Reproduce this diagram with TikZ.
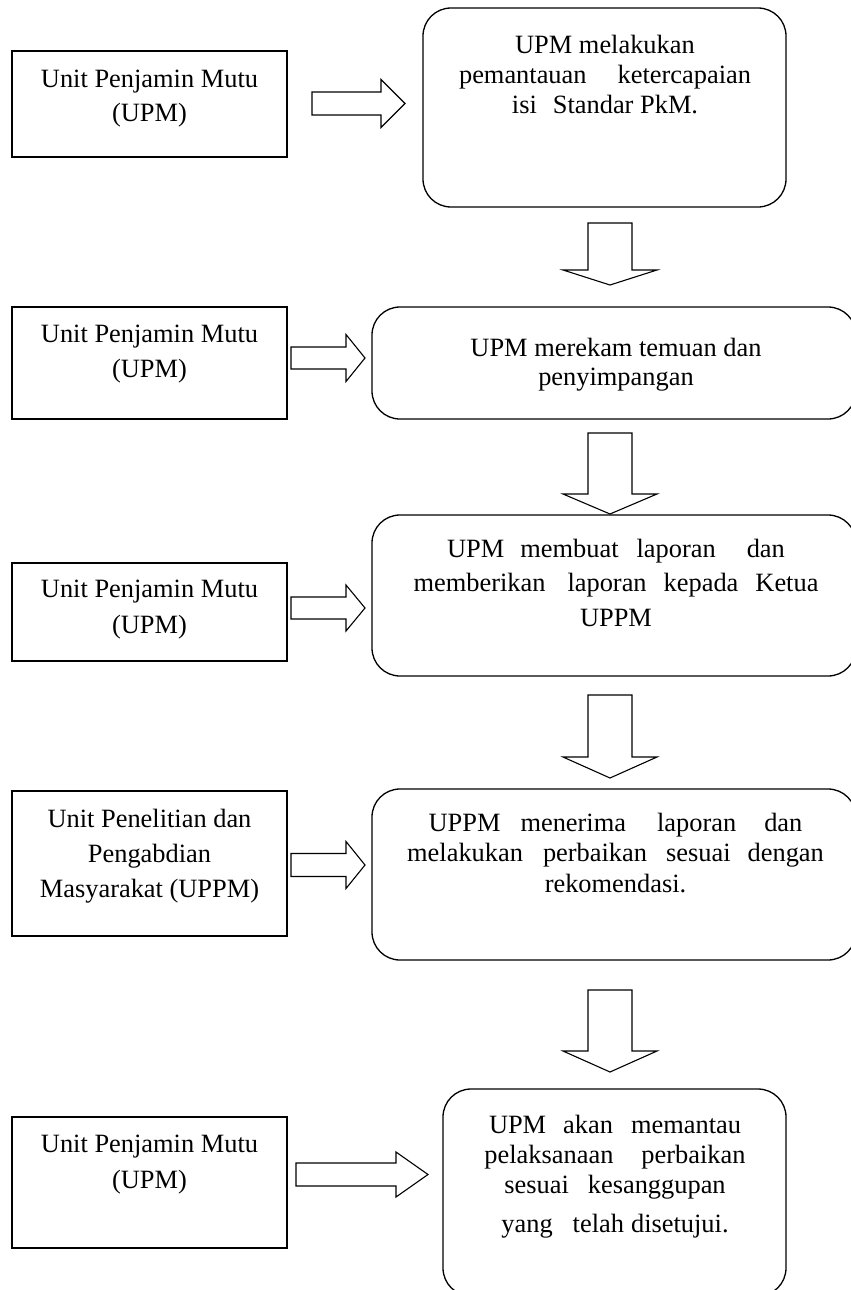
\documentclass[tikz,border=0pt]{standalone}
\usepackage{fontspec}
\setmainfont{Liberation Serif}
\newcommand\blk[2]{{\fontsize{26.4}{#1}\selectfont\begin{tabular}[t]{@{}c@{}}#2\end{tabular}}}
\newcommand\gp[1]{\hspace{#1pt}}
\tikzset{
  sqbox/.style={draw, line width=1.4pt, rectangle, inner sep=0pt},
  rbox/.style={draw, line width=1.3pt, rectangle, rounded corners=28pt, inner sep=0pt},
  blockarrow/.style={draw, line width=1.1pt, fill=white, line join=miter},
  txt/.style={anchor=base, inner sep=0pt},
}
% right block arrow: x1 x2 xtip yc halfshaft halfhead
\newcommand\rarr[6]{\draw[blockarrow] (#1,#4-#5) -- (#2,#4-#5) -- (#2,#4-#6) -- (#3,#4) -- (#2,#4+#6) -- (#2,#4+#5) -- (#1,#4+#5) -- cycle;}
% down block arrow: xc y1 y2 ytip halfshaft halfhead
\newcommand\darr[6]{\draw[blockarrow] (#1-#5,#2) -- (#1+#5,#2) -- (#1+#5,#3) -- (#1+#6,#3) -- (#1,#4) -- (#1-#6,#3) -- (#1-#5,#3) -- cycle;}
\begin{document}
\begin{tikzpicture}[x=1pt,y=-1pt]
\useasboundingbox (0,0) rectangle (851,1290);
\clip (0,0) rectangle (851,1290);
\fill[white] (0,0) rectangle (851,1290);

% row 1
\node[sqbox, minimum width=275pt, minimum height=106pt] (l1) at (149.5,104) {};
\node[rbox, minimum width=363pt, minimum height=199pt] (r1) at (604.5,107.5) {};
\node[txt] (lt1) at (149.5,87) {\blk{35}{Unit Penjamin Mutu\\(UPM)}};
\node[txt] (rt1) at (605,53) {\blk{30}{UPM melakukan\\pemantauan\gp{31}ketercapaian\\isi\gp{16}Standar PkM.}};
\rarr{312}{381}{405}{103.5}{11.5}{24}
\darr{610}{223}{270}{285}{22}{47}

% row 2
\node[sqbox, minimum width=275pt, minimum height=112pt] (l2) at (149.5,363) {};
\node[rbox, minimum width=484pt, minimum height=112pt] (r2) at (614,363) {};
\node[txt] (lt2) at (149.5,342) {\blk{35}{Unit Penjamin Mutu\\(UPM)}};
\node[txt] (rt2) at (616,356) {\blk{29.5}{UPM merekam temuan dan\\penyimpangan}};
\rarr{291}{346}{365}{358}{11}{23.5}
\darr{610}{433}{494}{514}{22}{47}

% row 3
\node[sqbox, minimum width=275pt, minimum height=98pt] (l3) at (149.5,612) {};
\node[rbox, minimum width=484pt, minimum height=161pt] (r3) at (614,595.5) {};
\node[txt] (lt3) at (149.5,597) {\blk{36}{Unit Penjamin Mutu\\(UPM)}};
\node[txt] (rt3) at (616,557) {\blk{34.5}{UPM\gp{16}membuat\gp{18}laporan\gp{31}dan\\memberikan\gp{22}laporan\gp{17}kepada\gp{17}Ketua\\UPPM}};
\rarr{291}{346}{365}{608}{11}{23}
\darr{610}{695}{757}{778}{22}{47}

% row 4
\node[sqbox, minimum width=275pt, minimum height=145pt] (l4) at (149.5,863.5) {};
\node[rbox, minimum width=484pt, minimum height=171pt] (r4) at (614,874.5) {};
\node[txt] (lt4) at (149.5,827) {\blk{35}{Unit Penelitian dan\\Pengabdian\\Masyarakat (UPPM)}};
\node[txt] (rt4) at (615.5,831) {\blk{30.5}{UPPM\gp{20}menerima\gp{31}laporan\gp{28}dan\\melakukan\gp{20}perbaikan\gp{19}sesuai\gp{17}dengan\\rekomendasi.}};
\rarr{291}{346}{365}{865}{11.5}{23.5}
\darr{610}{990}{1051}{1072}{22}{47}

% row 5
\node[sqbox, minimum width=275pt, minimum height=131pt] (l5) at (149.5,1182.5) {};
\node[rbox, minimum width=343pt, minimum height=207pt] (r5) at (614.5,1192.5) {};
\node[txt] (lt5) at (149.5,1152) {\blk{36}{Unit Penjamin Mutu\\(UPM)}};
\node[txt] (rt5) at (615,1133) {\blk{30}{UPM\gp{17}akan\gp{18}memantau\\pelaksanaan\gp{28}perbaikan\\sesuai\gp{19}kesanggupan\\[9pt]yang\gp{20}telah\gp{7}disetujui.}};
\rarr{296}{396}{428}{1174.5}{11.5}{22.5}
\end{tikzpicture}
\end{document}
